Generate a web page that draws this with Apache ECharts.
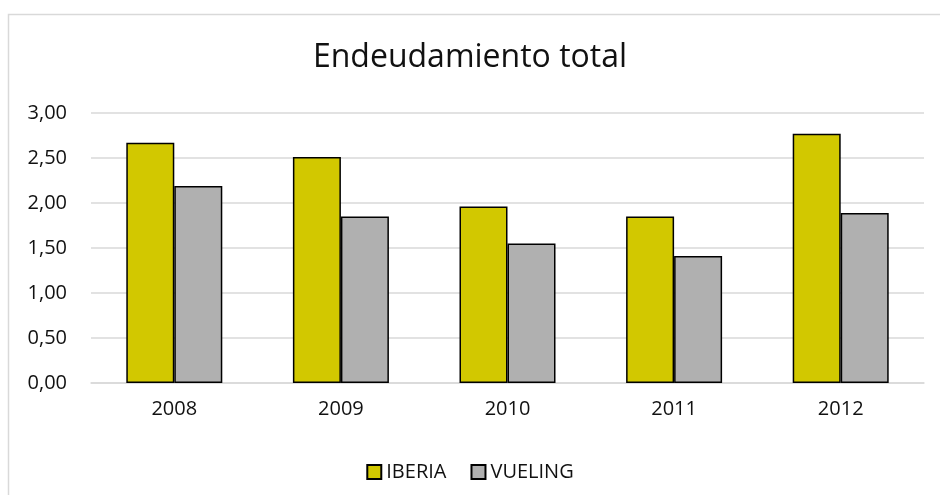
<!DOCTYPE html>
<html>
<head>
<meta charset="utf-8">
<script src="https://cdn.jsdelivr.net/npm/echarts@6/dist/echarts.min.js"></script>
<style>
html, body { margin: 0; padding: 0; background: #fff; }
#container { width: 940px; height: 495px; }
</style>
</head>
<body>
<div id="container"></div>
<script>
// datos
var years   = ['2008', '2009', '2010', '2011', '2012'];
var iberia  = [2.67, 2.51, 1.96, 1.85, 2.77];
var vueling = [2.19, 1.85, 1.55, 1.41, 1.89];

var dom   = document.getElementById("container");
var chart = echarts.init(dom);

var font = '"Open Sans", "Noto Sans", sans-serif';

option = {
    animation: false,
    graphic: [{
        type: 'rect',
        shape: {x: 8.5, y: 14.5, width: 960, height: 520},
        style: {fill: 'none', stroke: '#d9d9d9', lineWidth: 1.5},
        silent: true
    }],
    title: {
        text: 'Endeudamiento total',
        left: 'center',
        top: 37,
        textStyle: {
            fontFamily: font,
            fontSize: 32,
            fontWeight: 'normal',
            color: '#111'
        }
    },
    legend: {
        data: ['IBERIA', 'VUELING'],
        left: 'center',
        top: 457,
        icon: 'rect',
        itemWidth: 14,
        itemHeight: 14,
        itemGap: 24,
        textStyle: {fontFamily: font, fontSize: 20, color: '#111'}
    },
    grid: {
        left: 91,
        right: 16,
        top: 113,
        bottom: 112
    },
    xAxis: {
        type: 'category',
        data: years,
        axisLine: {lineStyle: {color: '#d9d9d9', width: 1.5}},
        axisTick: {show: false},
        axisLabel: {fontFamily: font, fontSize: 20, color: '#111', margin: 16}
    },
    yAxis: {
        type: 'value',
        min: 0,
        max: 3,
        interval: 0.5,
        axisLine: {show: false},
        axisTick: {show: false},
        splitLine: {lineStyle: {color: '#d9d9d9', width: 1.5}},
        axisLabel: {
            fontFamily: font,
            fontSize: 20,
            color: '#111',
            margin: 24,
            formatter: function (v) { return v.toFixed(2).replace('.', ','); }
        }
    },
    series: [
        {
            name: 'IBERIA',
            type: 'bar',
            data: iberia,
            barWidth: 48,
            barGap: '0%',
            itemStyle: {color: '#d2c800', borderColor: '#000', borderWidth: 1.5}
        },
        {
            name: 'VUELING',
            type: 'bar',
            data: vueling,
            barWidth: 48,
            barGap: '0%',
            itemStyle: {color: '#b0b0b0', borderColor: '#000', borderWidth: 1.5}
        }
    ]
};

chart.setOption(option, true);
</script>
</body>
</html>
